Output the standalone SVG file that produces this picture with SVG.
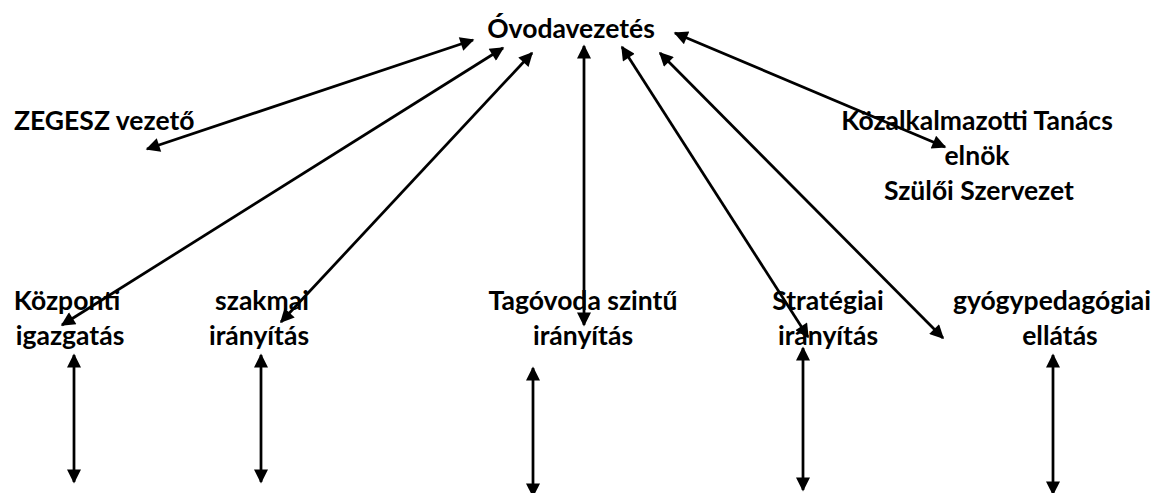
<svg xmlns="http://www.w3.org/2000/svg" width="1160" height="493" viewBox="0 0 1160 493">
<style>
text{font-family:Lato,"Liberation Sans",sans-serif;font-weight:bold;font-size:26.5px;fill:#000}
.m{text-anchor:middle}
.c{stroke:#000;stroke-width:2.75;fill:none;marker-start:url(#ah);marker-end:url(#ah)}
</style>
<defs>
<marker id="ah" viewBox="0 0 10 10" refX="9" refY="5" markerWidth="17" markerHeight="14" markerUnits="userSpaceOnUse" orient="auto-start-reverse"><path d="M0,0L10,5L0,10z" fill="#000"/></marker>
</defs>
<rect width="1160" height="493" fill="#fff"/>
<g id="n-ovodavezetes"><text class="m" x="571" y="38">Óvodavezetés</text></g>
<g id="n-zegesz"><text x="14" y="130">ZEGESZ vezető</text></g>
<g id="n-kozalk"><text class="m" x="977" y="130">Közalkalmazotti Tanács</text><text class="m" x="977" y="165">elnök</text><text class="m" x="979" y="200">Szülői Szervezet</text></g>
<g id="n-kozponti"><text class="m" x="67" y="310">Központi</text><text class="m" x="70" y="345">igazgatás</text></g>
<g id="n-szakmai"><text class="m" x="262" y="310">szakmai</text><text class="m" x="259" y="345">irányítás</text></g>
<g id="n-tagovoda"><text class="m" x="583" y="310">Tagóvoda szintű</text><text class="m" x="583" y="345">irányítás</text></g>
<g id="n-strategiai"><text class="m" x="828" y="310">Stratégiai</text><text class="m" x="828" y="345">irányítás</text></g>
<g id="n-gyogy"><text class="m" x="1052" y="310">gyógypedagógiai</text><text class="m" x="1060" y="345">ellátás</text></g>
<g id="connectors">
<line class="c" x1="473" y1="40" x2="147" y2="149"/>
<line class="c" x1="503" y1="48" x2="62" y2="325"/>
<line class="c" x1="532" y1="53" x2="281" y2="322"/>
<line class="c" x1="584" y1="46" x2="584" y2="325"/>
<line class="c" x1="622" y1="47" x2="808" y2="337"/>
<line class="c" x1="660" y1="53" x2="943" y2="338"/>
<line class="c" x1="675" y1="33" x2="945" y2="147"/>
<line class="c" x1="74" y1="355" x2="74" y2="482"/>
<line class="c" x1="261" y1="355" x2="261" y2="482"/>
<line class="c" x1="533" y1="368" x2="533" y2="496"/>
<line class="c" x1="803" y1="348" x2="803" y2="490"/>
<line class="c" x1="1053" y1="355" x2="1053" y2="494"/>
</g>
</svg>
